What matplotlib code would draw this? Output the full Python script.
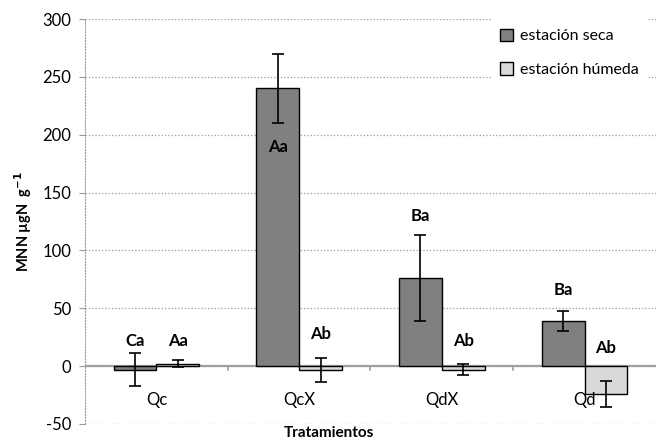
import numpy as np
import matplotlib.pyplot as plt

tratamientos = ['Qc', 'QcX', 'QdX', 'Qd']
seca = [-3, 240, 76, 39]
seca_err = [14, 30, 37, 9]
humeda = [2, -3.5, -3, -24]
humeda_err = [3, 10.5, 5, 11.5]
letras_seca = ['Ca', 'Aa', 'Ba', 'Ba']
letras_humeda = ['Aa', 'Ab', 'Ab', 'Ab']
# heights where the letters sit
y_letras_seca = [22, 189, 130, 66]
y_letras_humeda = [22, 28, 22, 16]

plt.rcParams['font.family'] = ['Lato', 'DejaVu Sans']
plt.rcParams['axes.unicode_minus'] = False

fig = plt.figure(figsize=(6.57, 4.43), dpi=100)
ax = fig.add_axes([0.1294, 0.043, 0.869, 0.914])

x = np.arange(len(tratamientos)) + 0.5
w = 0.3
ax.bar(x - w/2, seca, w, color='#808080', edgecolor='black', lw=1.0,
	yerr=seca_err, capsize=4, error_kw=dict(lw=1.2, capthick=1.2, ecolor='black'),
	label='estación seca', zorder=3)
ax.bar(x + w/2, humeda, w, color='#d9d9d9', edgecolor='black', lw=1.0,
	yerr=humeda_err, capsize=4, error_kw=dict(lw=1.2, capthick=1.2, ecolor='black'),
	label='estación húmeda', zorder=3)

for i in range(len(tratamientos)):
	ax.text(x[i] - w/2, y_letras_seca[i], letras_seca[i], ha='center', va='center',
		fontsize=12, fontweight='bold', zorder=5)
	ax.text(x[i] + w/2, y_letras_humeda[i], letras_humeda[i], ha='center', va='center',
		fontsize=12, fontweight='bold', zorder=5)
	ax.text(x[i], -29, tratamientos[i], ha='center', va='center', fontsize=12, zorder=5)

ax.set_xlim(0, len(tratamientos))
ax.set_ylim(-50, 300)
ax.set_yticks(range(-50, 301, 50))
ax.set_xticks([])
ax.grid(axis='y', ls=':', color='#999999', lw=0.9, zorder=0)
ax.axhline(0, color='#a0a0a0', lw=1.6, zorder=2)
for b in [1, 2, 3]:
	ax.plot([b, b], [0, -3], color='#a0a0a0', lw=1.2, zorder=2)

for s in ['top', 'right', 'bottom']:
	ax.spines[s].set_visible(False)
ax.spines['left'].set_linestyle(':')
ax.spines['left'].set_color('#999999')
ax.tick_params(axis='y', length=4, color='#999999', labelsize=12, pad=6)

ax.set_ylabel('MNN µgN  g$^{\\mathbf{-1}}$', fontsize=10.5, fontweight='bold', labelpad=6)
fig.text(0.5, 0.022, 'Tratamientos', ha='center', va='center', fontsize=11, fontweight='bold')

leg = ax.legend(loc='upper right', bbox_to_anchor=(1.0, 1.02), fontsize=11.5,
	frameon=True, facecolor='white', edgecolor='none', framealpha=1,
	labelspacing=1.2, handlelength=0.8, handleheight=0.8, handletextpad=0.4,
	borderpad=0.6, fancybox=False)
leg.set_zorder(10)

fig.savefig('out.png', dpi=100)
